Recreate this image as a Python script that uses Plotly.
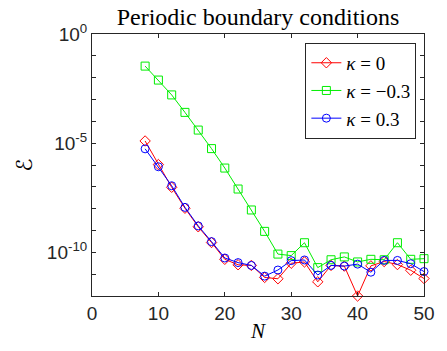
import plotly.graph_objects as go

N = [8, 10, 12, 14, 16, 18, 20, 22, 24, 26, 28, 30, 32, 34, 36, 38, 40, 42, 44, 46, 48, 50]
# log10 of error
log_k0 = [-4.90, -5.98, -7.02, -7.98, -8.83, -9.55, -10.32, -10.57, -10.60, -11.15, -11.21, -10.50,
          -10.44, -11.35, -10.60, -10.63, -12.00, -10.62, -10.42, -10.56, -10.82, -11.20]
log_km03 = [-1.47, -2.11, -2.79, -3.59, -4.40, -5.25, -6.14, -7.10, -8.06, -9.04, -10.08, -10.15,
            -9.56, -10.70, -10.34, -10.21, -10.44, -10.32, -10.34, -9.56, -10.32, -10.29]
log_kp03 = [-5.26, -6.08, -6.95, -7.94, -8.79, -9.51, -10.26, -10.47, -10.60, -11.09, -10.81, -10.38,
            -10.35, -11.04, -10.60, -10.63, -10.54, -10.91, -10.37, -10.37, -10.52, -10.88]

series = [
    ("<i>\u03ba</i> = 0", log_k0, "#FF0000", "diamond-open"),
    ("<i>\u03ba</i> = \u22120.3", log_km03, "#00EE00", "square-open"),
    ("<i>\u03ba</i> = 0.3", log_kp03, "#0000FF", "circle-open"),
]

xticks = [0, 10, 20, 30, 40, 50]
ytick_vals = [1e-10, 1e-5, 1e0]
ytick_text = ["10<sup>-10</sup>", "10<sup>-5</sup>", "10<sup>0</sup>"]
yminor = [10.0 ** (-k) for k in range(0, 13)]

fig = go.Figure()
for name, logs, color, sym in series:
    fig.add_trace(go.Scatter(
        x=N, y=[10 ** v for v in logs], name=name, mode="lines+markers",
        line=dict(color=color, width=1),
        marker=dict(symbol=sym, size=8, color=color, line=dict(width=1, color=color)),
        cliponaxis=False,
    ))

axcol = "#262626"
fig.update_layout(
    width=447, height=351,
    margin=dict(l=92, r=12, t=34, b=55),
    paper_bgcolor="white", plot_bgcolor="white",
    title=dict(text="Periodic boundary conditions", xref="paper", x=0.5, xanchor="center",
               yref="container", y=1 - 17 / 351, yanchor="middle",
               font=dict(family="Liberation Serif", size=24, color="black")),
    font=dict(family="Liberation Sans", size=19, color=axcol),
    xaxis=dict(range=[0, 50], tickvals=xticks, ticks="inside", ticklen=4, tickcolor=axcol,
               showline=True, linecolor=axcol, linewidth=1, mirror="ticks", showgrid=False, zeroline=False,
               tickfont=dict(size=19, color=axcol),
               title=dict(text="<i>N</i>", font=dict(family="Liberation Serif", size=21, color="black"), standoff=0)),
    yaxis=dict(type="log", range=[-12, 0], tickvals=ytick_vals, ticktext=ytick_text, ticks="inside",
               ticklen=4, tickcolor=axcol, showline=True, linecolor=axcol, linewidth=1, mirror="ticks",
               showgrid=False, zeroline=False, tickfont=dict(size=19, color=axcol),
               minor=dict(tickvals=yminor, ticks="inside", ticklen=4, tickcolor=axcol, showgrid=False),
               title=dict(text="\u2130", font=dict(family="DejaVu Sans", size=22, color="black"), standoff=8)),
    legend=dict(x=0.977, xanchor="right", y=0.966, yanchor="top", bgcolor="white",
                bordercolor=axcol, borderwidth=1,
                font=dict(family="Liberation Serif", size=19, color="black"),
                itemwidth=30, tracegroupgap=0),
    showlegend=True,
)

fig.write_html("out.html")
